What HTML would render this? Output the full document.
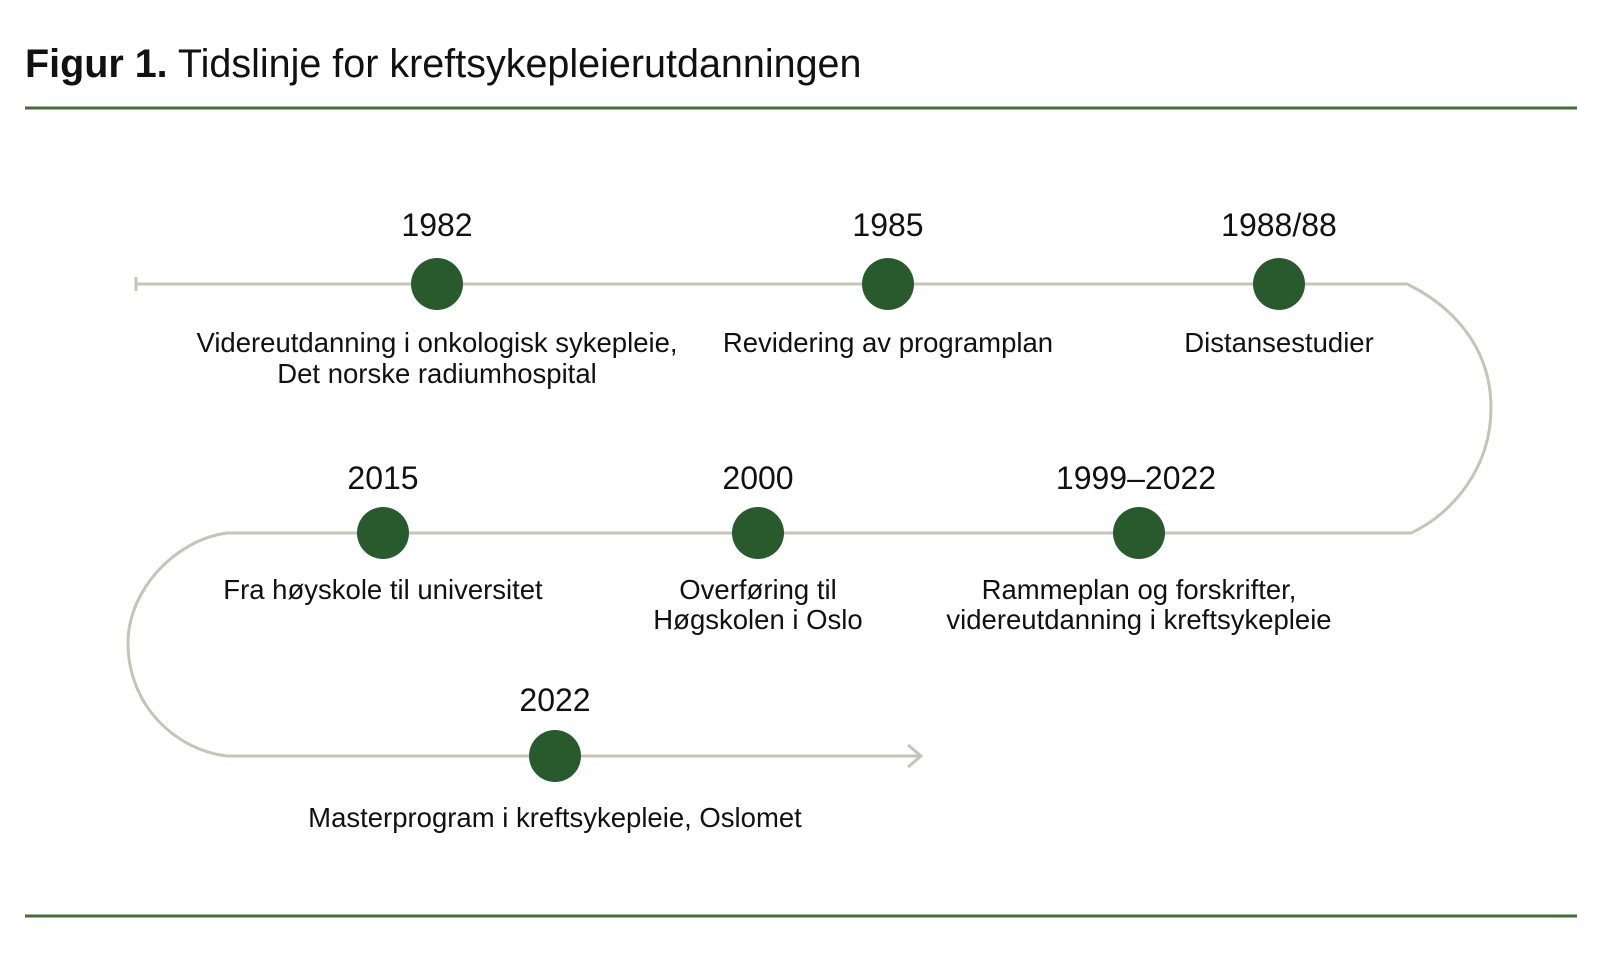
<!DOCTYPE html>
<html><head><meta charset="utf-8"><style>
html,body{margin:0;padding:0;background:#fff;width:1600px;height:964px;overflow:hidden}
svg text{font-family:"Liberation Sans Narrow","Liberation Sans",sans-serif;fill:#111}
</style></head><body>
<svg width="1600" height="964" viewBox="0 0 1600 964" xmlns="http://www.w3.org/2000/svg">
<text x="25" y="77" font-size="39.5"><tspan font-weight="bold">Figur 1.</tspan> Tidslinje for kreftsykepleierutdanningen</text>
<line x1="25" y1="108" x2="1577" y2="108" stroke="#4a6b3e" stroke-width="3"/>
<line x1="25" y1="916" x2="1577" y2="916" stroke="#4a6b3e" stroke-width="3"/>
<g fill="none" stroke="#c3c5b6" stroke-width="3">
<path d="M136 284 H1407 C1450 305 1491 345 1491 408 C1491 470 1450 515 1411 533 H227 C175 540 128 590 128 643 C128 705 175 750 227 756 H921"/>
<line x1="136" y1="277" x2="136" y2="291"/>
<path d="M908 745 L921 756 L908 767"/>
</g>
<g fill="#285a2e">
<circle cx="437" cy="284" r="26"/><circle cx="888" cy="284" r="26"/><circle cx="1279" cy="284" r="26"/>
<circle cx="383" cy="533" r="26"/><circle cx="758" cy="533" r="26"/><circle cx="1139" cy="533" r="26"/>
<circle cx="555" cy="756" r="26"/>
</g>
<g font-size="32" text-anchor="middle">
<text x="437" y="236">1982</text><text x="888" y="236">1985</text><text x="1279" y="236">1988/88</text>
<text x="383" y="489">2015</text><text x="758" y="489">2000</text><text x="1136" y="489">1999–2022</text>
<text x="555" y="711">2022</text>
</g>
<g font-size="27.5" text-anchor="middle">
<text x="437" y="352">Videreutdanning i onkologisk sykepleie,</text>
<text x="437" y="383">Det norske radiumhospital</text>
<text x="888" y="352">Revidering av programplan</text>
<text x="1279" y="352">Distansestudier</text>
<text x="383" y="599">Fra høyskole til universitet</text>
<text x="758" y="599">Overføring til</text>
<text x="758" y="629">Høgskolen i Oslo</text>
<text x="1139" y="599">Rammeplan og forskrifter,</text>
<text x="1139" y="629">videreutdanning i kreftsykepleie</text>
<text x="555" y="827">Masterprogram i kreftsykepleie, Oslomet</text>
</g>
</svg>
</body></html>
